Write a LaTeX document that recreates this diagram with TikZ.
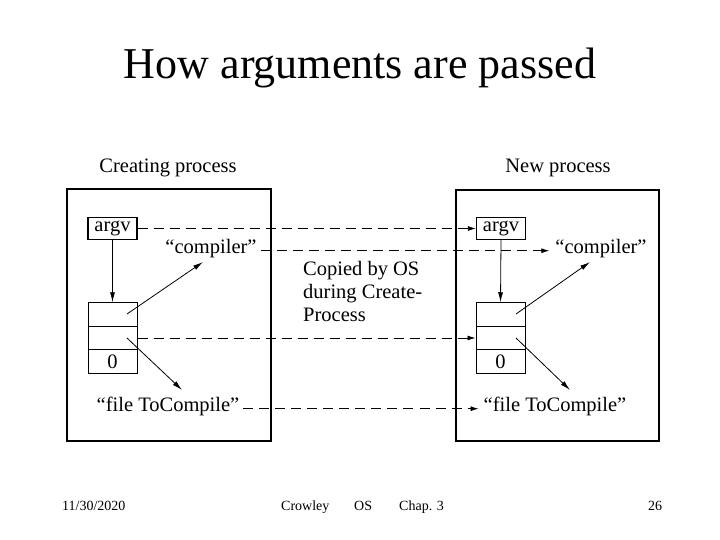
\documentclass[tikz,border=0pt]{standalone}
\usepackage{fontspec}
\setmainfont{Liberation Serif}
\usetikzlibrary{arrows.meta}
\begin{document}
\begin{tikzpicture}[x=1pt,y=-1pt,
  lbl/.style={font=\fontsize{20.5}{23}\selectfont, inner sep=0pt},
  txt/.style={font=\fontsize{20.5}{23}\selectfont, inner sep=0pt, anchor=base},
  cell/.style={draw, line width=1pt, minimum width=49pt, minimum height=23.5pt, inner sep=0pt, font=\fontsize{20.5}{23}\selectfont},
  argvbox/.style={draw, line width=1.3pt, minimum width=49pt, minimum height=22pt, inner sep=0pt, font=\fontsize{20.5}{23}\selectfont},
  procbox/.style={draw, line width=1.7pt},
  ptr/.style={line width=0.8pt, -{Latex[length=10pt,width=5pt]}},
  copyline/.style={line width=0.8pt, dash pattern=on 10pt off 6pt, -{Latex[length=8pt,width=5pt]}},
  foot/.style={font=\fontsize{14}{16}\selectfont, inner sep=0pt, anchor=base west}
]
\useasboundingbox (0,0) rectangle (720,540);
% title
\node[font=\fontsize{44}{48}\selectfont, inner sep=0pt] (title) at (360,68) {How arguments are passed};
% headings
\node[lbl] (hleft) at (168,168) {Creating process};
\node[lbl] (hright) at (558,168) {New process};
% process boxes
\draw[procbox] (67,189) rectangle (271,441);
\draw[procbox] (456,190) rectangle (659,441);
% left process
\node[argvbox] (largv) at (112.5,228.5) {argv};
\node[cell] (lc1) at (112.5,314.5) {};
\node[cell] (lc2) at (112.5,338) {};
\node[cell] (lc3) at (112.5,361.5) {0};
\node[txt] (lcomp) at (211,253) {“compiler”};
\node[txt] (lfile) at (168,411) {“file ToCompile”};
% right process
\node[argvbox] (rargv) at (501,228.5) {argv};
\node[cell] (rc1) at (500.5,314.5) {};
\node[cell] (rc2) at (500.5,338) {};
\node[cell] (rc3) at (500.5,361.5) {0};
\node[txt] (rcomp) at (601,253) {“compiler”};
\node[txt] (rfile) at (555,411) {“file ToCompile”};
% middle text
\node[lbl, align=left, anchor=north west] (copied) at (303,261) {Copied by OS\\during Create-\\Process};
% pointer arrows
\coordinate (lp1) at (127,314);
\coordinate (lp2) at (127,338);
\coordinate (lt1) at (203,262);
\coordinate (lt2) at (182,390);
\coordinate (rp1) at (516,314);
\coordinate (rp2) at (516,338);
\coordinate (rt1) at (590,262);
\coordinate (rt2) at (570,390);
\draw[ptr] (largv.south) -- (lc1.north);
\draw[ptr] (lp1) -- (lt1);
\draw[ptr] (lp2) -- (lt2);
\draw[ptr] (rargv.south) -- (rc1.north);
\draw[ptr] (rp1) -- (rt1);
\draw[ptr] (rp2) -- (rt2);
% copy lines
\draw[copyline] (largv.east) -- (rargv.west);
\draw[copyline] ([xshift=4pt]lcomp.mid east) -- ([xshift=-6pt]rcomp.mid west);
\draw[copyline] (lc2.east) -- (rc2.west);
\draw[copyline] ([xshift=4pt]lfile.mid east) -- ([xshift=-5pt]rfile.mid west);
% footer
\node[foot] (fdate) at (62,510) {11/30/2020};
\node[foot] (fauth) at (281,510) {Crowley};
\node[foot] (fos) at (354,510) {OS};
\node[foot] (fchap) at (399,510) {Chap. 3};
\node[foot] (fpage) at (648,510) {26};
\end{tikzpicture}
\end{document}
